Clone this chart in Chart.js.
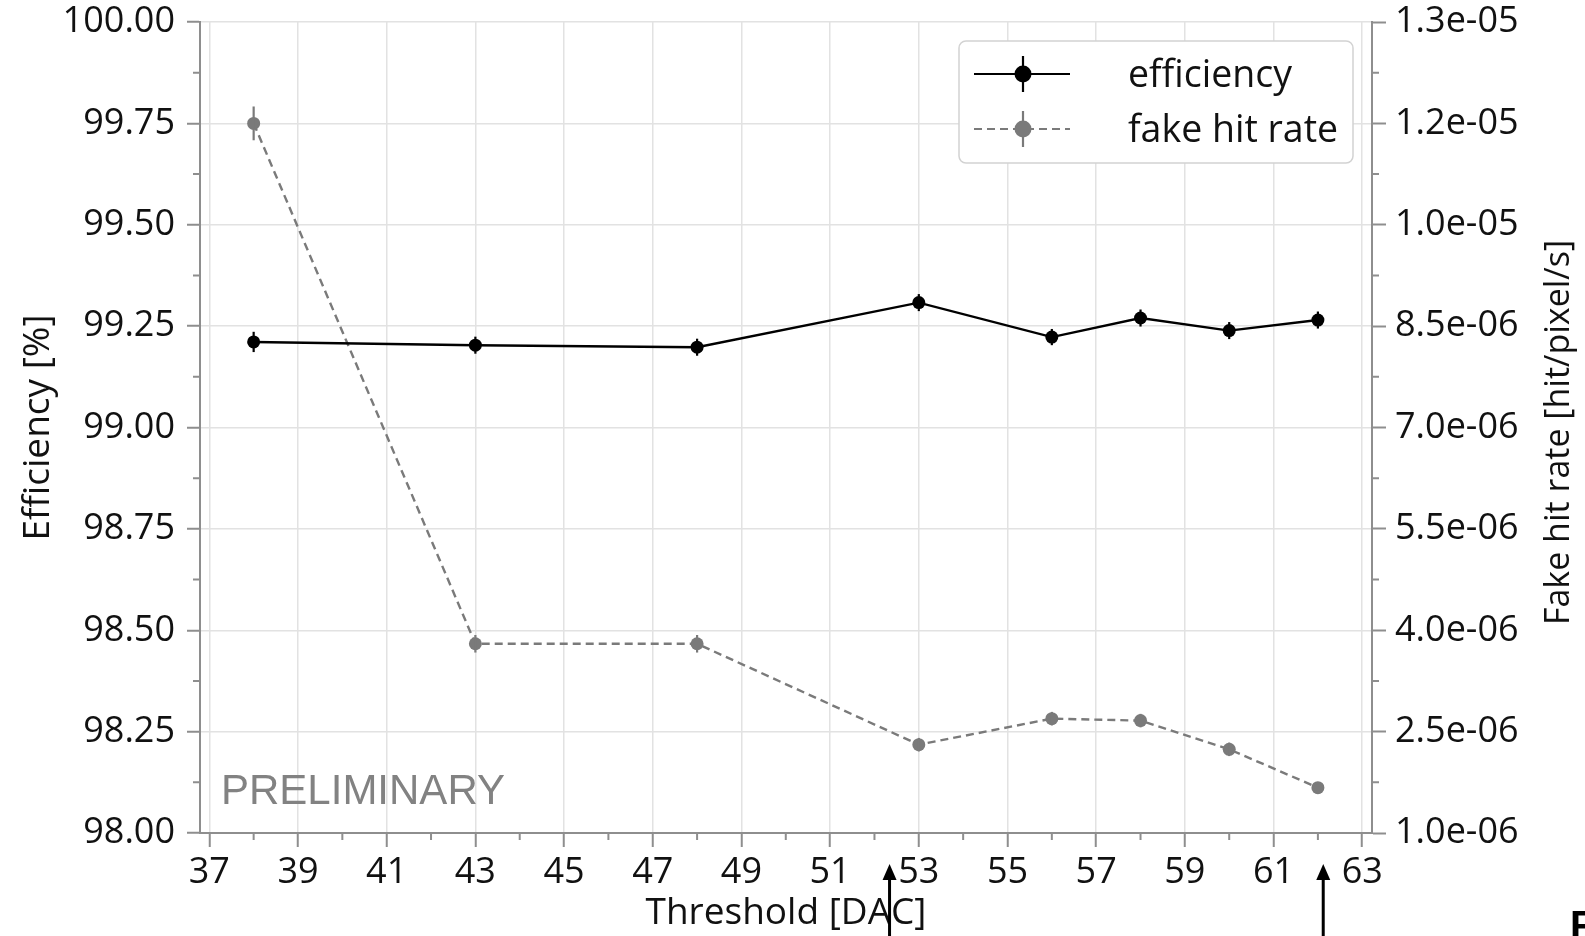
<!DOCTYPE html>
<html>
<head>
<meta charset="utf-8">
<title>Efficiency and fake hit rate vs threshold</title>
<script src="https://cdn.jsdelivr.net/npm/chart.js@4.4.1/dist/chart.umd.min.js"></script>
<style>
  html, body { margin: 0; padding: 0; background: #fff; }
  #marco { position: relative; width: 1585px; height: 936px; overflow: hidden; }
</style>
</head>
<body>
<div id="marco"><canvas id="grafico" width="1585" height="936"></canvas></div>
<script>
// Umbrales medidos [DAC]
const umbrales = [38, 43, 48, 53, 56, 58, 60, 62];

// Eficiencia [%] y su error
const eficiencia = [99.211, 99.203, 99.198, 99.308, 99.223, 99.270, 99.239, 99.265];
const errEficiencia = [0.025, 0.021, 0.021, 0.021, 0.02, 0.021, 0.021, 0.021];

// Tasa de hits falsos [hit/pixel/s] y su error
const tasaFalsa = [11.5e-6, 3.80e-6, 3.80e-6, 2.307e-6, 2.692e-6, 2.663e-6, 2.238e-6, 1.671e-6];
const errTasaFalsa = [0.25e-6, 0.13e-6, 0.13e-6, 0.1e-6, 0.1e-6, 0.1e-6, 0.1e-6, 0.05e-6];

// Etiquetas de los ejes
const ticksX = [37, 39, 41, 43, 45, 47, 49, 51, 53, 55, 57, 59, 61, 63];
const etiquetasEficiencia = ['98.00', '98.25', '98.50', '98.75', '99.00', '99.25', '99.50', '99.75', '100.00'];
const valoresTasa = [1.0e-6, 2.5e-6, 4.0e-6, 5.5e-6, 7.0e-6, 8.5e-6, 10.0e-6, 11.5e-6, 13.0e-6];
const etiquetasTasa = ['1.0e-06', '2.5e-06', '4.0e-06', '5.5e-06', '7.0e-06', '8.5e-06', '1.0e-05', '1.2e-05', '1.3e-05'];

// Flechas bajo el eje X (en unidades DAC)
const flechas = [52.34, 62.12];

const FUENTE = '"Open Sans", "Noto Sans", sans-serif';
const GRIS_EJE = '#8e8e8e';
const GRIS_REJILLA = '#e2e2e2';
const GRIS_SERIE = '#7a7a7a';

function puntos(valores) {
    return umbrales.map((u, i) => ({ x: u, y: valores[i] }));
}

// Fija el tamaño del eje y anula el relleno automático de sus etiquetas
function fijarTamano(propiedad, valor) {
    return (escala) => {
        escala[propiedad] = valor;
        escala.paddingTop = 0;
        escala.paddingBottom = 0;
        escala.paddingLeft = 0;
        escala.paddingRight = 0;
    };
}

// Barras de error verticales
const barrasError = {
    id: 'barrasError',
    afterDatasetsDraw(chart) {
        const ctx = chart.ctx;
        const escalaX = chart.scales.x;
        chart.data.datasets.forEach((ds) => {
            const escalaY = chart.scales[ds.yAxisID];
            ctx.save();
            ctx.strokeStyle = ds.borderColor;
            ctx.lineWidth = 2.2;
            ds.data.forEach((p, j) => {
                const err = ds.errores[j];
                const x = escalaX.getPixelForValue(p.x);
                ctx.beginPath();
                ctx.moveTo(x, escalaY.getPixelForValue(p.y - err));
                ctx.lineTo(x, escalaY.getPixelForValue(p.y + err));
                ctx.stroke();
            });
            ctx.restore();
        });
    }
};

// Marcas menores entre las marcas principales
const marcasMenores = {
    id: 'marcasMenores',
    afterDraw(chart) {
        const ctx = chart.ctx;
        const area = chart.chartArea;
        ctx.save();
        ctx.strokeStyle = GRIS_EJE;
        ctx.lineWidth = 2;
        const medios = (escala) => {
            const t = escala.ticks;
            const r = [];
            for (let i = 0; i < t.length - 1; i++) {
                r.push((escala.getPixelForValue(t[i].value) + escala.getPixelForValue(t[i + 1].value)) / 2);
            }
            return r;
        };
        ctx.beginPath();
        medios(chart.scales.x).forEach((x) => {
            ctx.moveTo(x, area.bottom);
            ctx.lineTo(x, area.bottom + 7);
        });
        medios(chart.scales.y).forEach((y) => {
            ctx.moveTo(area.left, y);
            ctx.lineTo(area.left - 7, y);
        });
        medios(chart.scales.y2).forEach((y) => {
            ctx.moveTo(area.right, y);
            ctx.lineTo(area.right + 7, y);
        });
        ctx.stroke();
        ctx.restore();
    }
};

// Leyenda, título del eje derecho y anotaciones
const anotaciones = {
    id: 'anotaciones',
    afterDraw(chart) {
        const ctx = chart.ctx;
        const area = chart.chartArea;
        ctx.save();

        // título del eje derecho, leído de abajo hacia arriba
        ctx.save();
        ctx.translate(1559, (area.top + area.bottom) / 2 + 5);
        ctx.rotate(-Math.PI / 2);
        ctx.fillStyle = '#111';
        ctx.font = '34px ' + FUENTE;
        ctx.textAlign = 'center';
        ctx.textBaseline = 'middle';
        ctx.fillText('Fake hit rate [hit/pixel/s]', 0, 0);
        ctx.restore();

        // PRELIMINARY
        ctx.fillStyle = '#828282';
        ctx.font = '42px "Liberation Sans", Arial, sans-serif';
        ctx.textAlign = 'left';
        ctx.textBaseline = 'alphabetic';
        ctx.fillText('PRELIMINARY', area.left + 21, area.bottom - 29);

        // leyenda
        const caja = { x: 959, y: 41, w: 394, h: 122 };
        ctx.beginPath();
        ctx.roundRect(caja.x, caja.y, caja.w, caja.h, 7);
        ctx.fillStyle = '#fff';
        ctx.fill();
        ctx.strokeStyle = '#d2d2d2';
        ctx.lineWidth = 1.5;
        ctx.stroke();
        chart.data.datasets.forEach((ds, i) => {
            const yc = caja.y + 33 + i * 55;
            ctx.strokeStyle = ds.borderColor;
            ctx.lineWidth = 2.2;
            ctx.setLineDash(ds.borderDash || []);
            ctx.beginPath();
            ctx.moveTo(974, yc);
            ctx.lineTo(1070, yc);
            ctx.stroke();
            ctx.setLineDash([]);
            ctx.beginPath();
            ctx.moveTo(1023, yc - 18);
            ctx.lineTo(1023, yc + 18);
            ctx.stroke();
            ctx.beginPath();
            ctx.arc(1023, yc, 8.5, 0, Math.PI * 2);
            ctx.fillStyle = ds.backgroundColor;
            ctx.fill();
            ctx.fillStyle = '#111';
            ctx.font = '37.5px ' + FUENTE;
            ctx.textAlign = 'left';
            ctx.textBaseline = 'middle';
            ctx.fillText(ds.label, 1128, yc + 2);
        });

        // flechas
        ctx.fillStyle = '#000';
        ctx.strokeStyle = '#000';
        ctx.lineWidth = 3;
        flechas.forEach((v) => {
            const x = chart.scales.x.getPixelForValue(v);
            const punta = area.bottom + 31;
            ctx.beginPath();
            ctx.moveTo(x, punta + 12);
            ctx.lineTo(x, chart.height);
            ctx.stroke();
            ctx.beginPath();
            ctx.moveTo(x, punta);
            ctx.lineTo(x - 7, punta + 16);
            ctx.lineTo(x + 7, punta + 16);
            ctx.closePath();
            ctx.fill();
        });

        // letra cortada en la esquina
        ctx.fillStyle = '#000';
        ctx.font = 'bold 40px "Liberation Sans", Arial, sans-serif';
        ctx.textAlign = 'left';
        ctx.textBaseline = 'top';
        ctx.fillText('F', 1570, 908);

        ctx.restore();
    }
};

const ctx = document.getElementById('grafico').getContext('2d');
new Chart(ctx, {
    type: 'line',
    data: {
        datasets: [{
            label: 'efficiency',
            data: puntos(eficiencia),
            errores: errEficiencia,
            yAxisID: 'y',
            borderColor: '#000',
            backgroundColor: '#000',
            borderWidth: 2.4,
            pointRadius: 6.5,
            pointBorderWidth: 0,
            tension: 0
        }, {
            label: 'fake hit rate',
            data: puntos(tasaFalsa),
            errores: errTasaFalsa,
            yAxisID: 'y2',
            borderColor: GRIS_SERIE,
            backgroundColor: GRIS_SERIE,
            borderWidth: 2.4,
            borderDash: [8, 5],
            pointRadius: 6.5,
            pointBorderWidth: 0,
            tension: 0
        }]
    },
    options: {
        responsive: false,
        animation: false,
        layout: { autoPadding: false, padding: { top: 22, left: 0, right: 0, bottom: 0 } },
        plugins: {
            legend: { display: false },
            tooltip: { enabled: false }
        },
        scales: {
            x: {
                type: 'linear',
                min: 36.79,
                max: 63.22,
                afterBuildTicks: (escala) => { escala.ticks = ticksX.map((v) => ({ value: v })); },
                afterFit: fijarTamano('height', 103),
                grid: { color: GRIS_REJILLA, lineWidth: 1.5, tickColor: GRIS_EJE, tickWidth: 2, tickLength: 14 },
                border: { color: GRIS_EJE, width: 2 },
                ticks: { autoSkip: false, maxRotation: 0, padding: 4, color: '#111', font: { family: FUENTE, size: 36 } },
                title: {
                    display: true,
                    text: 'Threshold [DAC]',
                    color: '#111',
                    font: { family: FUENTE, size: 37 },
                    padding: { top: -3, bottom: 0 }
                }
            },
            y: {
                type: 'linear',
                position: 'left',
                min: 98,
                max: 100,
                afterBuildTicks: (escala) => { escala.ticks = etiquetasEficiencia.map((t) => ({ value: parseFloat(t) })); },
                afterFit: fijarTamano('width', 200),
                grid: { color: GRIS_REJILLA, lineWidth: 1.5, tickColor: GRIS_EJE, tickWidth: 2, tickLength: 13 },
                border: { color: GRIS_EJE, width: 2 },
                ticks: {
                    autoSkip: false,
                    padding: 12,
                    color: '#111',
                    font: { family: FUENTE, size: 36 },
                    callback: (valor, i) => etiquetasEficiencia[i]
                },
                title: {
                    display: true,
                    text: 'Efficiency [%]',
                    color: '#111',
                    font: { family: FUENTE, size: 37 },
                    padding: { top: 16, bottom: 0 }
                }
            },
            y2: {
                type: 'linear',
                position: 'right',
                min: 1.0e-6,
                max: 13.0e-6,
                afterBuildTicks: (escala) => { escala.ticks = valoresTasa.map((v) => ({ value: v })); },
                afterFit: fijarTamano('width', 213),
                grid: { drawOnChartArea: false, tickColor: GRIS_EJE, tickWidth: 2, tickLength: 14 },
                border: { color: GRIS_EJE, width: 2 },
                ticks: {
                    autoSkip: false,
                    padding: 9,
                    color: '#111',
                    font: { family: FUENTE, size: 36 },
                    callback: (valor, i) => etiquetasTasa[i]
                }
            }
        }
    },
    plugins: [barrasError, marcasMenores, anotaciones]
});
</script>
</body>
</html>
